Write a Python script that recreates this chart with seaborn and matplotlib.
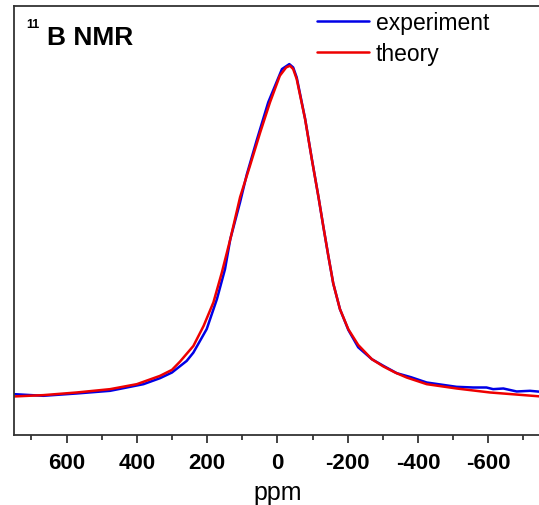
import numpy as np
import pandas as pd
import seaborn as sns
import matplotlib.pyplot as plt

# dados (ppm, intensidade normalizada)
ppm_exp = [750, 666, 571, 476, 381, 334, 300, 258, 239, 201, 172, 149, 134, 106, 87, 59,
           26, -13, -34, -45, -55, -79, -98, -117, -131, -145, -159, -178, -202, -230,
           -269, -302, -340, -380, -425, -510, -557, -595, -614, -643, -681, -719, -750]
int_exp = [0.007, 0.002, 0.009, 0.017, 0.037, 0.055, 0.072, 0.107, 0.132, 0.203, 0.293,
           0.383, 0.473, 0.585, 0.668, 0.770, 0.885, 0.985, 1.000, 0.990, 0.960, 0.835,
           0.715, 0.600, 0.510, 0.423, 0.340, 0.263, 0.200, 0.148, 0.112, 0.092, 0.070,
           0.058, 0.042, 0.029, 0.027, 0.027, 0.022, 0.024, 0.015, 0.017, 0.014]

ppm_teo = [750, 666, 571, 476, 400, 334, 300, 277, 239, 210, 182, 158, 134, 106, 78, 49,
           21, -7, -25, -36, -45, -55, -79, -98, -117, -131, -145, -159, -178, -202,
           -230, -269, -302, -335, -368, -425, -510, -605, -750]
int_teo = [0.000, 0.004, 0.012, 0.022, 0.037, 0.062, 0.080, 0.105, 0.152, 0.212, 0.283,
           0.373, 0.473, 0.600, 0.694, 0.794, 0.885, 0.965, 0.990, 0.995, 0.985, 0.955,
           0.834, 0.714, 0.600, 0.510, 0.423, 0.340, 0.263, 0.202, 0.155, 0.112, 0.090,
           0.072, 0.057, 0.037, 0.024, 0.012, 0.000]

xticks = [600, 400, 200, 0, -200, -400, -600]

df_exp = pd.DataFrame({'ppm': ppm_exp, 'intensidade': int_exp})
df_teo = pd.DataFrame({'ppm': ppm_teo, 'intensidade': int_teo})

sns.set_style('ticks')
plt.rcParams['font.family'] = ['Liberation Sans', 'DejaVu Sans']
plt.rcParams['text.color'] = 'black'
plt.rcParams['axes.labelcolor'] = 'black'

fig = plt.figure(figsize=(5.39, 5.06), dpi=100)
ax = fig.add_axes([0.0256, 0.1383, 0.978, 0.848])

sns.lineplot(data=df_exp, x='ppm', y='intensidade', color='#0000e6', linewidth=1.8,
             label='experiment', ax=ax, solid_joinstyle='round')
sns.lineplot(data=df_teo, x='ppm', y='intensidade', color='#ee0000', linewidth=1.8,
             label='theory', ax=ax, solid_joinstyle='round')

ax.set_xlim(750, -750)
ax.set_ylim(-0.116, 1.175)
ax.set_xticks(xticks)
ax.set_xticks(np.arange(700, -800, -200), minor=True)
ax.set_xticklabels([str(t) for t in xticks], fontsize=16, fontweight='bold', color='black')
ax.set_yticks([])
ax.set_ylabel('')
ax.set_xlabel('ppm', fontsize=18, labelpad=5, color='black')
ax.tick_params(axis='x', which='major', length=6, width=1.2, direction='out', pad=6, color='#222222')
ax.tick_params(axis='x', which='minor', length=3.5, width=1.2, direction='out', color='#222222')
for lado in ['left', 'right', 'top', 'bottom']:
    ax.spines[lado].set_visible(True)
    ax.spines[lado].set_linewidth(1.3)
    ax.spines[lado].set_color('#333333')

# rótulo 11B NMR
ax.text(0.023, 0.972, '11', transform=ax.transAxes, fontsize=9, fontweight='bold', va='top', ha='left')
ax.text(0.0635, 0.911, 'B NMR', transform=ax.transAxes, fontsize=19, fontweight='bold',
        va='baseline', ha='left')

ax.legend(loc='upper left', bbox_to_anchor=(316.5 / 539, 1 - 12 / 506), bbox_transform=fig.transFigure,
          frameon=False, fontsize=16.5, handlelength=2.3, handletextpad=0.3, labelspacing=0.33,
          borderpad=0, borderaxespad=0)

plt.savefig('out.png', dpi=100)
plt.close()
